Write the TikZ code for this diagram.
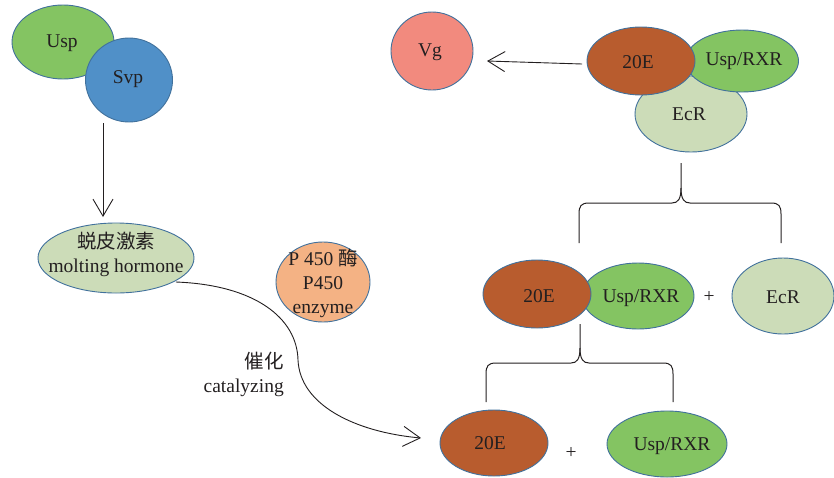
\documentclass[tikz,border=0pt]{standalone}
\usepackage{fontspec}
\setmainfont{Liberation Serif}
\newfontfamily\cjk{Noto Sans CJK SC}
\usetikzlibrary{arrows.meta,shapes.geometric}
\definecolor{edgeblue}{HTML}{41719C}
\definecolor{uspgreen}{HTML}{84C462}
\definecolor{svpblue}{HTML}{5090C8}
\definecolor{lightgreen}{HTML}{CCDCB8}
\definecolor{peach}{HTML}{F4B284}
\definecolor{salmon}{HTML}{F28A7E}
\definecolor{rust}{HTML}{B85C2E}
\definecolor{txt}{HTML}{231F20}
\tikzset{
  blob/.style={ellipse, draw=edgeblue, line width=0.9pt, inner sep=0pt},
  tx/.style={text=txt, align=center, inner sep=0pt},
  conn/.style={draw=txt, line width=0.9pt, -{Straight Barb[length=17pt,width=20pt,line width=0.9pt]}},
  bracel/.style={draw=txt, line width=1pt},
  lbl/.style={text=txt, align=right, inner sep=0pt}
}
\begin{document}
\begin{tikzpicture}[x=1pt,y=-1pt,font=\fontsize{19.5}{24}\selectfont]
\useasboundingbox (0,0) rectangle (834,477);
% top-left
\node[blob, fill=uspgreen, minimum width=102pt, minimum height=74pt] (usp) at (63,42) {};
\node[tx] (usptx) at (62,43) {Usp};
\node[blob, fill=svpblue, minimum width=87pt, minimum height=84pt] (svp) at (129,80) {};
\node[tx] (svptx) at (128,79) {Svp};
\node[blob, fill=lightgreen, minimum width=156pt, minimum height=70pt] (mh) at (116,258) {};
\node[tx] (mhtx) at (116,254) {{\cjk 蜕皮激素}\\molting hormone};
\node[blob, fill=peach, minimum width=94pt, minimum height=80pt] (p450) at (323,282) {};
\node[tx] (p450tx) at (323,283) {P 450 {\cjk 酶}\\P450\\enzyme};
\coordinate (svpb) at (103,123);
\coordinate (mhtip) at (103,217);
\draw[conn] (svpb) -- (mhtip);
% curve
\coordinate (cs) at (176,282);
\coordinate (cm) at (298,360);
\coordinate (ce) at (421,438);
\draw[conn] (cs) .. controls (255,285) and (297,318) .. (cm) .. controls (300,405) and (355,432) .. (ce);
\node[lbl, anchor=east] (cat) at (284,374) {{\cjk 催化}\\catalyzing};
% top-right
\node[blob, fill=salmon, minimum width=82pt, minimum height=78pt] (vg) at (432,51) {};
\node[tx] (vgtx) at (430,52) {Vg};
\node[blob, fill=lightgreen, minimum width=112pt, minimum height=76pt] (ecr1) at (691,114) {};
\node[tx] (ecr1tx) at (689,114) {EcR};
\node[blob, fill=uspgreen, minimum width=113pt, minimum height=62pt] (rxr1) at (742,61) {};
\node[tx] (rxr1tx) at (744,61) {Usp/RXR};
\node[blob, fill=rust, minimum width=108pt, minimum height=68pt] (e1) at (641,61) {};
\node[tx] (e1tx) at (638,62) {20E};
\coordinate (e1w) at (582,64);
\coordinate (vgtip) at (487,61);
\draw[conn] (e1w) -- (vgtip);
% brace 1
\coordinate (b1l) at (579,243);
\coordinate (b1r) at (781,243);
\coordinate (b1t) at (681,163);
\draw[bracel] (b1l) -- (579,214) .. controls (579,206) and (581,203) .. (589,203) -- (672,203) .. controls (678,203) and (681,199) .. (681,188) -- (b1t);
\draw[bracel] (b1r) -- (781,214) .. controls (781,206) and (779,203) .. (771,203) -- (690,203) .. controls (684,203) and (681,199) .. (681,188);
% middle row
\node[blob, fill=uspgreen, minimum width=112pt, minimum height=66pt] (rxr2) at (638,296) {};
\node[tx] (rxr2tx) at (641,298) {Usp/RXR};
\node[blob, fill=rust, minimum width=108pt, minimum height=68pt] (e2) at (537,294) {};
\node[tx] (e2tx) at (539,296) {20E};
\node[tx] (plus1) at (709,297) {+};
\node[blob, fill=lightgreen, minimum width=102pt, minimum height=76pt] (ecr2) at (783,296) {};
\node[tx] (ecr2tx) at (783,297) {EcR};
% brace 2
\coordinate (b2l) at (486,402);
\coordinate (b2r) at (673,402);
\coordinate (b2t) at (580,324);
\draw[bracel] (b2l) -- (486,374) .. controls (486,366) and (488,363) .. (496,363) -- (571,363) .. controls (577,363) and (580,359) .. (580,348) -- (b2t);
\draw[bracel] (b2r) -- (673,374) .. controls (673,366) and (671,363) .. (663,363) -- (589,363) .. controls (583,363) and (580,359) .. (580,348);
% bottom row
\node[blob, fill=rust, minimum width=108pt, minimum height=66pt] (e3) at (494,443) {};
\node[tx] (e3tx) at (490,443) {20E};
\node[tx] (plus2) at (571,453) {+};
\node[blob, fill=uspgreen, minimum width=120pt, minimum height=66pt] (rxr3) at (667,444) {};
\node[tx] (rxr3tx) at (672,446) {Usp/RXR};
\end{tikzpicture}
\end{document}
